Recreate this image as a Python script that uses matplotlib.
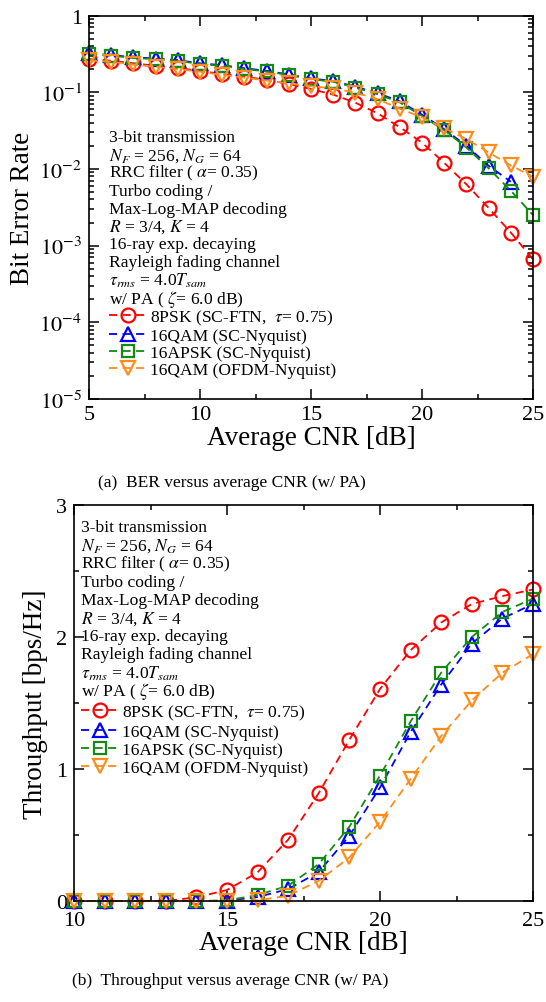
import math
import matplotlib
matplotlib.use("Agg")
import matplotlib.pyplot as plt
from matplotlib.ticker import MultipleLocator, FuncFormatter, LogLocator, NullFormatter

# (a) BER versus average CNR
cnr_ber = [5, 6, 7, 8, 9, 10, 11, 12, 13, 14, 15, 16, 17, 18, 19, 20, 21, 22, 23, 24, 25]
ber_8psk = [0.27, 0.257, 0.238, 0.221, 0.206, 0.19, 0.172, 0.159, 0.145, 0.128, 0.11,
            0.093, 0.073, 0.053, 0.035, 0.022, 0.0120, 0.0063, 0.0031, 0.00148, 0.00066]
ber_16qam_sc = [0.32, 0.305, 0.285, 0.275, 0.262, 0.238, 0.225, 0.205, 0.19, 0.17, 0.151,
                0.14, 0.118, 0.097, 0.076, 0.051, 0.033, 0.020, 0.011, 0.0068]
ber_16apsk = [0.314, 0.30, 0.279, 0.27, 0.257, 0.233, 0.221, 0.20, 0.187, 0.167, 0.148,
              0.137, 0.115, 0.094, 0.0736, 0.049, 0.032, 0.019, 0.0102, 0.0052, 0.0025]
ber_16qam_ofdm = [0.26, 0.25, 0.23, 0.215, 0.2, 0.185, 0.168, 0.155, 0.142, 0.13, 0.12,
                  0.112, 0.099, 0.081, 0.061, 0.047, 0.034, 0.0245, 0.0164, 0.0111, 0.0079]

# (b) Throughput versus average CNR
cnr_thr = [10, 11, 12, 13, 14, 15, 16, 17, 18, 19, 20, 21, 22, 23, 24, 25]
thr_8psk = [0, 0, 0, 0, 0.028, 0.083, 0.217, 0.465, 0.818, 1.222, 1.606, 1.90, 2.11, 2.25, 2.31, 2.36]
thr_16qam_sc = [0, 0, 0, 0, 0, 0, 0.03, 0.09, 0.22, 0.495, 0.86, 1.28, 1.64, 1.95, 2.14, 2.25]
thr_16apsk = [0, 0, 0, 0, 0, 0.005, 0.045, 0.116, 0.28, 0.563, 0.95, 1.36, 1.73, 2.0, 2.19, 2.29]
thr_16qam_ofdm = [0, 0, 0, 0, 0, 0, 0.005, 0.04, 0.154, 0.33, 0.60, 0.924, 1.25, 1.52, 1.73, 1.87]

labels = ["8PSK (SC-FTN,  $\\tau$= 0.75)", "16QAM (SC-Nyquist)",
          "16APSK (SC-Nyquist)", "16QAM (OFDM-Nyquist)"]

info_lines = ["3-bit transmission",
              "$N_F$ = 256, $N_G$ = 64",
              "RRC filter ( $\\alpha$= 0.35)",
              "Turbo coding /",
              "Max-Log-MAP decoding",
              "$R$ = 3/4, $K$ = 4",
              "16-ray exp. decaying",
              "Rayleigh fading channel",
              "$\\tau_{rms}$ = 4.0$T_{sam}$",
              "w/ PA ( $\\zeta$= 6.0 dB)"]

# (marker, color, markersize)
styles = [("o", "#ff0000", 10),
          ("^", "#0000ff", 10),
          ("s", "#138a13", 9),
          ("v", "#ff8c1a", 10)]

plt.rcParams["font.family"] = ["Liberation Serif", "DejaVu Serif"]
plt.rcParams["mathtext.fontset"] = "stix"

TXT = 12.6  # info block / legend font


def style_axes(ax, xpad):
    ax.tick_params(which="both", direction="in", top=True, right=True, labelsize=16, width=1.1)
    ax.tick_params(which="major", length=7, pad=5)
    ax.tick_params(which="minor", length=3.5)
    ax.tick_params(axis="x", which="major", pad=xpad)
    for s in ax.spines.values():
        s.set_linewidth(1.2)


def draw_series(ax, xs, ys_list):
    for ys, (mk, col, ms), lb in zip(ys_list, styles, labels):
        ax.plot(xs[:len(ys)], ys, linestyle="--", dashes=(4.5, 3), color=col, linewidth=1.3,
                marker=mk, markersize=ms, markerfacecolor="none", markeredgecolor=col,
                markeredgewidth=1.6, label=lb, clip_on=False)


def draw_info(ax, x0, y0, dy):
    for i, line in enumerate(info_lines):
        ax.text(x0, y0 - i * dy, line, transform=ax.transAxes, fontsize=TXT, va="center", ha="left")


def draw_legend(ax, x0, y0, spacing):
    ax.legend(loc="upper left", bbox_to_anchor=(x0, y0), frameon=False, fontsize=TXT,
              handlelength=2.2, handletextpad=0.15, labelspacing=spacing, borderpad=0, borderaxespad=0)


def main():
    fig = plt.figure(figsize=(5.46, 10.03), dpi=100)

    # ---- (a) BER
    ax1 = fig.add_axes([89 / 546, 1 - 400 / 1003, 444 / 546, 383.5 / 1003])
    draw_series(ax1, cnr_ber, [ber_8psk, ber_16qam_sc, ber_16apsk, ber_16qam_ofdm])
    ax1.set_yscale("log")
    ax1.set_xlim(5, 25)
    ax1.set_ylim(1e-5, 1)
    ax1.xaxis.set_major_locator(MultipleLocator(5))
    ax1.xaxis.set_minor_locator(MultipleLocator(2.5))
    ax1.yaxis.set_major_locator(LogLocator(base=10, numticks=10))
    ax1.yaxis.set_minor_locator(LogLocator(base=10, subs=range(2, 10), numticks=20))
    ax1.yaxis.set_minor_formatter(NullFormatter())
    ax1.yaxis.set_major_formatter(FuncFormatter(
        lambda v, p: "1" if abs(v - 1) < 1e-9 else "$10^{%d}$" % round(math.log10(v))))
    style_axes(ax1, 4)
    ax1.set_xlabel("Average CNR [dB]", fontsize=19.5, labelpad=1)
    ax1.set_ylabel("Bit Error Rate", fontsize=19.5, labelpad=3)
    draw_info(ax1, 0.045, (400 - 138) / 383.5, 17.9 / 383.5)
    draw_legend(ax1, 0.045, (400 - 309) / 383.5, 0.04)
    fig.text(232 / 546, 1 - 483 / 1003, "(a)  BER versus average CNR (w/ PA)", fontsize=12.5,
             ha="center", va="center")

    # ---- (b) Throughput
    ax2 = fig.add_axes([74 / 546, 1 - 902 / 1003, 459 / 546, 396 / 1003])
    draw_series(ax2, cnr_thr, [thr_8psk, thr_16qam_sc, thr_16apsk, thr_16qam_ofdm])
    ax2.set_xlim(10, 25)
    ax2.set_ylim(0, 3)
    ax2.xaxis.set_major_locator(MultipleLocator(5))
    ax2.xaxis.set_minor_locator(MultipleLocator(2.5))
    ax2.yaxis.set_major_locator(MultipleLocator(1))
    ax2.yaxis.set_minor_locator(MultipleLocator(0.5))
    style_axes(ax2, 7)
    ax2.set_xlabel("Average CNR [dB]", fontsize=19.5, labelpad=0)
    ax2.set_ylabel("Throughput [bps/Hz]", fontsize=19.5, labelpad=6)
    draw_info(ax2, 0.015, (902 - 528) / 396, 18.2 / 396)
    draw_legend(ax2, 0.015, (902 - 704) / 396, 0.1)
    fig.text(230 / 546, 1 - 981 / 1003, "(b)  Throughput versus average CNR (w/ PA)", fontsize=12.5,
             ha="center", va="center")

    fig.savefig("out.png", dpi=100)


if __name__ == "__main__":
    main()
